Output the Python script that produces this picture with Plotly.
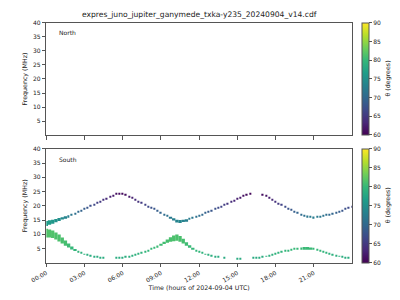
import numpy as np
import plotly.graph_objects as go

hours = [i * 0.25 for i in range(97)]

# South - upper branch (MHz), None = no emission
upper_f = [13.8, 14.1, 14.4, 14.8, 15.2, 15.6, 16.0, 16.4, 16.9, 17.3, 17.8, 18.3, 18.8, 19.3, 19.9, 20.4,
           21.0, 21.5, 22.1, 22.6, 23.1, 23.6, 24.1, 24.3, 24.3, 23.9, 23.3, 22.7, 22.1, 21.5, 20.9, 20.3,
           19.8, 19.3, 18.8, 18.2, 17.6, 17.0, 16.4, 15.8, 15.2, 14.6, 14.5, 14.7, 15.0, 15.4, 15.8, 16.2,
           16.6, 17.0, 17.4, 17.9, 18.3, 18.8, 19.3, 19.7, 20.2, 20.8, 21.3, 21.8, 22.4, 22.9, 23.4, 23.8,
           24.2, None, None, None, 24.0, 23.5, 22.9, 22.2, 21.5, 20.8, 20.2, 19.6, 19.0, 18.5, 18.0, 17.5,
           17.0, 16.6, 16.3, 16.1, 16.0, 16.1, 16.3, 16.5, 16.8, 17.0, 17.3, 17.6, 18.0, 18.4, 18.8, 19.3,
           19.8]
upper_band = [1.8, 1.6, 1.4, 1.2, 1.0, 0.8, 0.6, 0.5, 0.4, 0.35, 0.35, 0.35, 0.35, 0.35, 0.35, 0.35,
              0.35, 0.35, 0.35, 0.35, 0.35, 0.35, 0.35, 0.35, 0.35, 0.35, 0.35, 0.35, 0.35, 0.35, 0.35, 0.35,
              0.35, 0.35, 0.35, 0.35, 0.35, 0.35, 0.4, 0.6, 0.8, 1.0, 1.0, 0.8, 0.6, 0.4, 0.35, 0.35,
              0.35, 0.35, 0.35, 0.35, 0.35, 0.35, 0.35, 0.35, 0.35, 0.35, 0.35, 0.35, 0.35, 0.35, 0.35, 0.35,
              0.35, 0.35, 0.35, 0.35, 0.35, 0.35, 0.35, 0.35, 0.35, 0.35, 0.35, 0.35, 0.35, 0.35, 0.35, 0.35,
              0.35, 0.4, 0.5, 0.5, 0.5, 0.5, 0.4, 0.35, 0.35, 0.35, 0.35, 0.35, 0.35, 0.35, 0.35, 0.35,
              0.35]
upper_theta = [76.5, 76.3, 76.0, 75.5, 75.0, 74.3, 73.6, 72.8, 71.8, 71.0, 70.3, 69.5, 68.8, 68.0, 67.2, 66.5,
               65.7, 65.0, 64.2, 63.5, 62.7, 62.0, 61.2, 60.8, 60.8, 61.2, 62.0, 62.8, 63.6, 64.4, 65.2, 66.0,
               66.7, 67.4, 68.1, 68.9, 69.7, 70.5, 71.3, 72.1, 73.0, 73.6, 73.7, 73.4, 73.0, 72.4, 71.8, 71.2,
               70.6, 70.0, 69.4, 68.7, 68.1, 67.4, 66.7, 66.1, 65.4, 64.6, 63.9, 63.2, 62.5, 61.9, 61.3, 60.9,
               60.6, 61.0, 61.0, 61.0, 61.0, 61.6, 62.4, 63.3, 64.2, 65.1, 66.0, 66.8, 67.6, 68.3, 69.0, 69.7,
               70.4, 71.2, 71.8, 72.3, 72.5, 72.3, 71.9, 71.4, 70.9, 70.3, 69.8, 69.3, 68.7, 68.1, 67.4, 66.7,
               66.0]

# South - lower branch (MHz)
lower_f = [10.4, 10.3, 10.0, 9.4, 8.7, 7.8, 6.9, 6.1, 5.2, 4.5, 3.9, 3.4, 3.0, 2.7, 2.4, 2.2,
           2.0, 1.8, 1.8, None, None, None, 1.8, 1.8, 1.9, 2.0, 2.2, 2.5, 2.8, 3.1, 3.5, 3.9,
           4.3, 4.8, 5.3, 5.8, 6.4, 7.0, 7.6, 8.2, 8.6, 8.8, 8.4, 7.6, 6.6, 5.7, 5.0, 4.4,
           3.9, 3.4, 3.0, 2.7, 2.4, 2.2, 2.0, None, 1.8, None, None, None, 1.5, 1.5, None, None,
           None, 1.7, 1.7, 1.8, 2.0, 2.3, 2.6, 2.9, 3.2, 3.5, 3.8, 4.1, 4.4, 4.6, 4.8, 5.0,
           5.1, 5.2, 5.2, 5.1, 5.0, 4.7, 4.3, 3.9, 3.5, 3.1, 2.8, 2.5, 2.3, 2.1, 1.9, 1.8,
           None]
lower_band = [3.0, 2.8, 2.6, 2.5, 2.4, 2.1, 1.8, 1.4, 1.0, 0.7, 0.5, 0.4, 0.35, 0.35, 0.35, 0.35,
              0.35, 0.35, 0.35, 0.35, 0.35, 0.35, 0.35, 0.35, 0.35, 0.35, 0.35, 0.35, 0.35, 0.35, 0.35, 0.35,
              0.35, 0.35, 0.4, 0.5, 0.6, 0.8, 1.2, 1.6, 2.0, 2.2, 2.0, 1.7, 1.3, 0.9, 0.6, 0.4,
              0.35, 0.35, 0.35, 0.35, 0.35, 0.35, 0.35, 0.35, 0.35, 0.35, 0.35, 0.35, 0.35, 0.35, 0.35, 0.35,
              0.35, 0.35, 0.35, 0.35, 0.35, 0.35, 0.35, 0.35, 0.35, 0.35, 0.35, 0.35, 0.35, 0.35, 0.4, 0.5,
              0.5, 0.6, 0.6, 0.6, 0.5, 0.4, 0.35, 0.35, 0.35, 0.35, 0.35, 0.35, 0.35, 0.35, 0.35, 0.35,
              0.35]
lower_theta = [81.5, 81.5, 81.5, 81.4, 81.3, 81.2, 81.0, 80.5, 80.0, 79.7, 79.5, 79.2, 79.0, 78.8, 78.5, 78.5,
               78.5, 78.5, 78.5, 78.5, 78.5, 78.5, 78.5, 78.5, 78.6, 78.7, 78.8, 78.9, 79.0, 79.2, 79.4, 79.6,
               79.8, 80.0, 80.2, 80.4, 80.6, 80.8, 81.0, 81.2, 81.3, 81.3, 81.2, 81.0, 80.6, 80.3, 80.0, 79.8,
               79.6, 79.4, 79.2, 79.0, 78.8, 78.6, 78.4, 78.3, 78.3, 78.3, 78.3, 78.3, 78.3, 78.3, 78.3, 78.3,
               78.3, 78.3, 78.3, 78.4, 78.6, 78.8, 79.0, 79.1, 79.2, 79.4, 79.5, 79.7, 79.8, 80.0, 80.1, 80.2,
               80.2, 80.3, 80.3, 80.3, 80.2, 80.0, 79.8, 79.6, 79.4, 79.2, 79.0, 78.9, 78.8, 78.7, 78.6, 78.5,
               78.5]

tick_hours = [0, 3, 6, 9, 12, 15, 18, 21]
tick_labels = ["00:00", "03:00", "06:00", "09:00", "12:00", "15:00", "18:00", "21:00"]
freq_ticks = [5, 10, 15, 20, 25, 30, 35, 40]
theta_ticks = [60, 65, 70, 75, 80, 85, 90]

title = "expres_juno_jupiter_ganymede_txka-y235_20240904_v14.cdf"
FONT = "DejaVu Sans"
TXT = "#222222"
LINE = "#555555"


def bars(f, band, theta):
    xs, bs, hs, cs, ws = [], [], [], [], []
    for h, v, b, t in zip(hours, f, band, theta):
        if v is None:
            continue
        xs.append(h)
        bs.append(v - b / 2)
        hs.append(b)
        cs.append(t)
        ws.append(0.26 if b >= 0.6 else 0.1)
    return go.Bar(x=xs, y=hs, base=bs, width=ws, xaxis="x2", yaxis="y2",
                  marker=dict(color=cs, coloraxis="coloraxis2", line=dict(width=0)),
                  showlegend=False, hoverinfo="skip")


fig = go.Figure()
# dummy trace so the North panel colour bar is drawn
fig.add_trace(go.Scatter(x=[-10], y=[-10], mode="markers", xaxis="x", yaxis="y",
                         marker=dict(color=[60], coloraxis="coloraxis", size=1),
                         showlegend=False, hoverinfo="skip"))
fig.add_trace(bars(upper_f, upper_band, upper_theta))
fig.add_trace(bars(lower_f, lower_band, lower_theta))

W, H = 400, 300
x0, x1 = 31.6, 350.0
top_dom = [1 - 133 / H, 1 - 19 / H]
bot_dom = [1 - 262.3 / H, 1 - 146.7 / H]

axis_common = dict(showline=True, mirror=True, linecolor=LINE, linewidth=1, ticks="outside",
                   ticklen=3.5, tickwidth=0.8, tickcolor=LINE, showgrid=False, zeroline=False,
                   tickfont=dict(family=FONT, size=6, color=TXT))

xa = dict(axis_common, range=[0, 24], tickvals=tick_hours, ticktext=tick_labels,
          domain=[x0 / W, x1 / W])
ya = dict(axis_common, range=[0, 40], tickvals=freq_ticks,
          title=dict(text="Frequency (MHz)", font=dict(family=FONT, size=6.3, color=TXT), standoff=4))


def cax(dom):
    return dict(colorscale="Viridis", cmin=60, cmax=90,
                colorbar=dict(x=360.7 / W, xanchor="left", thickness=6.6, thicknessmode="pixels",
                              len=(dom[1] - dom[0]), lenmode="fraction", y=(dom[0] + dom[1]) / 2,
                              yanchor="middle", outlinewidth=1, outlinecolor=LINE,
                              tickvals=theta_ticks, ticks="outside", ticklen=3, tickwidth=0.8,
                              tickcolor=LINE, tickfont=dict(family=FONT, size=6, color=TXT),
                              xpad=0, ypad=0))


def cb_label(dom):
    return dict(text="θ (degrees)", x=387 / W, y=(dom[0] + dom[1]) / 2, xref="paper", yref="paper",
                xanchor="center", yanchor="middle", showarrow=False, textangle=-90,
                font=dict(family=FONT, size=6.3, color=TXT))


fig.update_layout(
    width=W, height=H, margin=dict(l=0, r=0, t=0, b=0),
    paper_bgcolor="white", plot_bgcolor="white",
    font=dict(family=FONT, size=6, color=TXT),
    barmode="overlay",
    xaxis=dict(xa, anchor="y", showticklabels=False, matches="x2"),
    yaxis=dict(ya, domain=top_dom, anchor="x"),
    xaxis2=dict(xa, anchor="y2", tickangle=-30,
                title=dict(text="Time (hours of 2024-09-04 UTC)",
                           font=dict(family=FONT, size=6.3, color=TXT), standoff=2)),
    yaxis2=dict(ya, domain=bot_dom, anchor="x2"),
    coloraxis=cax(top_dom),
    coloraxis2=cax(bot_dom),
    annotations=[
        dict(text=title, x=(x0 + x1) / 2 / W, y=1 - 11 / H, xref="paper", yref="paper",
             xanchor="center", yanchor="middle", showarrow=False,
             font=dict(family=FONT, size=7.6, color=TXT)),
        dict(text="North", x=43 / W, y=1 - 29 / H, xref="paper", yref="paper",
             xanchor="left", yanchor="middle", showarrow=False,
             font=dict(family=FONT, size=6, color=TXT)),
        dict(text="South", x=43 / W, y=1 - 158 / H, xref="paper", yref="paper",
             xanchor="left", yanchor="middle", showarrow=False,
             font=dict(family=FONT, size=6, color=TXT)),
        cb_label(top_dom),
        cb_label(bot_dom),
    ],
)

fig.write_html("out.html")
